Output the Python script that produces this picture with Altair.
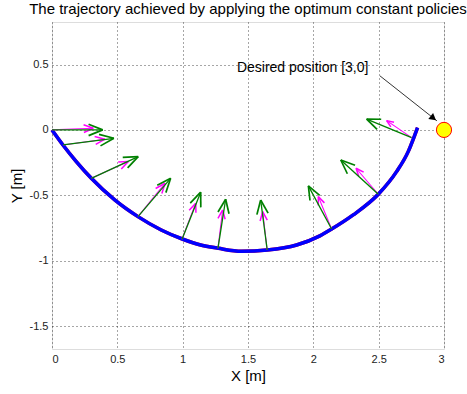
import altair as alt
import pandas as pd
import numpy as np

# trajectory
traj_x = [0.0, 0.084, 0.186, 0.301, 0.48, 0.658, 0.836, 1.002, 1.13, 1.273, 1.451, 1.647, 1.872, 2.05, 2.14, 2.305, 2.497, 2.637, 2.726, 2.777, 2.798]
traj_y = [0.0, -0.115, -0.242, -0.370, -0.535, -0.663, -0.765, -0.836, -0.878, -0.905, -0.928, -0.918, -0.88, -0.81, -0.758, -0.65, -0.492, -0.319, -0.166, -0.038, 0.018]

# arrows: bases and tips
base_x = [0.0, 0.084, 0.301, 0.658, 0.995, 1.27, 1.647, 2.14, 2.497, 2.752]
base_y = [0.0, -0.115, -0.37, -0.663, -0.836, -0.905, -0.918, -0.758, -0.492, -0.059]
green_tip_x = [0.388, 0.474, 0.66, 0.908, 1.138, 1.329, 1.597, 1.962, 2.21, 2.408]
green_tip_y = [0.0, -0.064, -0.204, -0.37, -0.476, -0.53, -0.536, -0.428, -0.23, 0.082]
mag_tip_x = [0.316, 0.405, 0.584, 0.865, 1.10, 1.306, 1.612, 2.038, 2.327, 2.561]
mag_tip_y = [0.013, -0.071, -0.242, -0.408, -0.56, -0.612, -0.625, -0.51, -0.293, 0.071]

goal_x = [3.0]
goal_y = [0.0]
note_text = ["Desired position [3,0]"]
note_x = [1.415]
note_y = [0.474]
note_arrow_x = [2.51, 2.946]
note_arrow_y = [0.413, 0.069]

x_ticks = [0, 0.5, 1, 1.5, 2, 2.5, 3]
y_ticks = [-1.5, -1, -0.5, 0, 0.5]
x_dom = [0, 3]
y_dom = [-1.675, 0.825]

GREEN = "#008000"
MAG = "#ff00ff"
FONT = "Liberation Sans"

def arrow_segments(bx, by, tx, ty, color, frac, ang, w):
    rows = []
    for x0, y0, x1, y1 in zip(bx, by, tx, ty):
        rows.append(dict(x=x0, y=y0, x2=x1, y2=y1, c=color, w=w))
        dx, dy = x1 - x0, y1 - y0
        L = np.hypot(dx, dy)
        ux, uy = dx / L, dy / L
        h = frac * L
        for s in (1, -1):
            a = np.radians(ang) * s
            rx = ux * np.cos(a) - uy * np.sin(a)
            ry = ux * np.sin(a) + uy * np.cos(a)
            rows.append(dict(x=x1, y=y1, x2=x1 - h * rx, y2=y1 - h * ry, c=color, w=w + 0.4))
    return rows

seg = pd.DataFrame(
    arrow_segments(base_x, base_y, mag_tip_x, mag_tip_y, MAG, 0.25, 22, 1.1)
    + arrow_segments(base_x, base_y, green_tip_x, green_tip_y, GREEN, 0.3, 22, 1.3)
)
traj = pd.DataFrame({"x": traj_x, "y": traj_y, "o": range(len(traj_x))})

xs = alt.Scale(domain=x_dom, nice=False, zero=False)
ys = alt.Scale(domain=y_dom, nice=False, zero=False)

xax = alt.Axis(values=x_ticks, title="X [m]", grid=True, gridDash=[1, 3], gridColor="#000000",
               gridOpacity=0.7, ticks=False, domain=False, labelExpr="'' + datum.value",
               labelFont=FONT, labelFontSize=11, labelColor="#222222", labelPadding=4,
               titleFont=FONT, titleFontSize=15, titleFontWeight="normal", titlePadding=4)
yax = alt.Axis(values=y_ticks, title="Y [m]", grid=True, gridDash=[1, 3], gridColor="#000000",
               gridOpacity=0.7, ticks=False, domain=False, labelExpr="'' + datum.value",
               labelFont=FONT, labelFontSize=11, labelColor="#222222", labelPadding=4,
               titleFont=FONT, titleFontSize=15, titleFontWeight="normal", titlePadding=5)

red = alt.Chart(traj).mark_line(color="#ff0000", strokeWidth=3.5, interpolate="monotone").encode(
    x=alt.X("x:Q", scale=xs, axis=xax),
    y=alt.Y("y:Q", scale=ys, axis=yax),
    order="o:Q",
)
blue = alt.Chart(traj).mark_line(color="#0000ff", strokeWidth=3.5, interpolate="monotone").encode(
    x=alt.X("x:Q", scale=xs), y=alt.Y("y:Q", scale=ys), order="o:Q"
)
arrows = alt.Chart(seg).mark_rule().encode(
    x=alt.X("x:Q", scale=xs), y=alt.Y("y:Q", scale=ys),
    x2="x2:Q", y2="y2:Q",
    color=alt.Color("c:N", scale=None),
    strokeWidth=alt.StrokeWidth("w:Q", scale=None),
)

goal = alt.Chart(pd.DataFrame({"x": goal_x, "y": goal_y})).mark_point(
    shape="circle", filled=True, fill="#ffff00", stroke="#ff0000", strokeWidth=1, size=230, opacity=1
).encode(x=alt.X("x:Q", scale=xs), y=alt.Y("y:Q", scale=ys))

note = alt.Chart(pd.DataFrame({"x": note_x, "y": note_y, "t": note_text})).mark_text(
    align="left", baseline="middle", font=FONT, fontSize=14, color="#000000"
).encode(x=alt.X("x:Q", scale=xs), y=alt.Y("y:Q", scale=ys), text="t:N")

na = pd.DataFrame({"x": [note_arrow_x[0]], "y": [note_arrow_y[0]],
                   "x2": [note_arrow_x[1]], "y2": [note_arrow_y[1]]})
note_line = alt.Chart(na).mark_rule(color="#000000", strokeWidth=0.8).encode(
    x=alt.X("x:Q", scale=xs), y=alt.Y("y:Q", scale=ys), x2="x2:Q", y2="y2:Q"
)
dx = note_arrow_x[1] - note_arrow_x[0]
dy = note_arrow_y[1] - note_arrow_y[0]
L = np.hypot(dx, dy)
head = pd.DataFrame({
    "x": [note_arrow_x[1] - 0.035 * dx / L],
    "y": [note_arrow_y[1] - 0.035 * dy / L],
    "a": [float(np.degrees(np.arctan2(dx, dy)))],
})
note_head = alt.Chart(head).mark_point(shape="triangle-up", filled=True, color="#000000",
                                       size=60, opacity=1).encode(
    x=alt.X("x:Q", scale=xs), y=alt.Y("y:Q", scale=ys), angle=alt.Angle("a:Q", scale=None)
)

chart = alt.layer(red, blue, arrows, goal, note_line, note_head, note).properties(
    width=392, height=327,
    title=alt.TitleParams("The trajectory achieved by applying the optimum constant policies",
                          font=FONT, fontSize=15, fontWeight="normal", color="#000000", offset=5),
    autosize=alt.AutoSizeParams(type="none"),
    padding={"left": 52, "top": 22, "right": 23, "bottom": 45},
).configure_view(stroke="#000000", strokeWidth=1).configure(background="#ffffff")

chart.save("out.html", embed_options={"renderer": "svg", "actions": False})
